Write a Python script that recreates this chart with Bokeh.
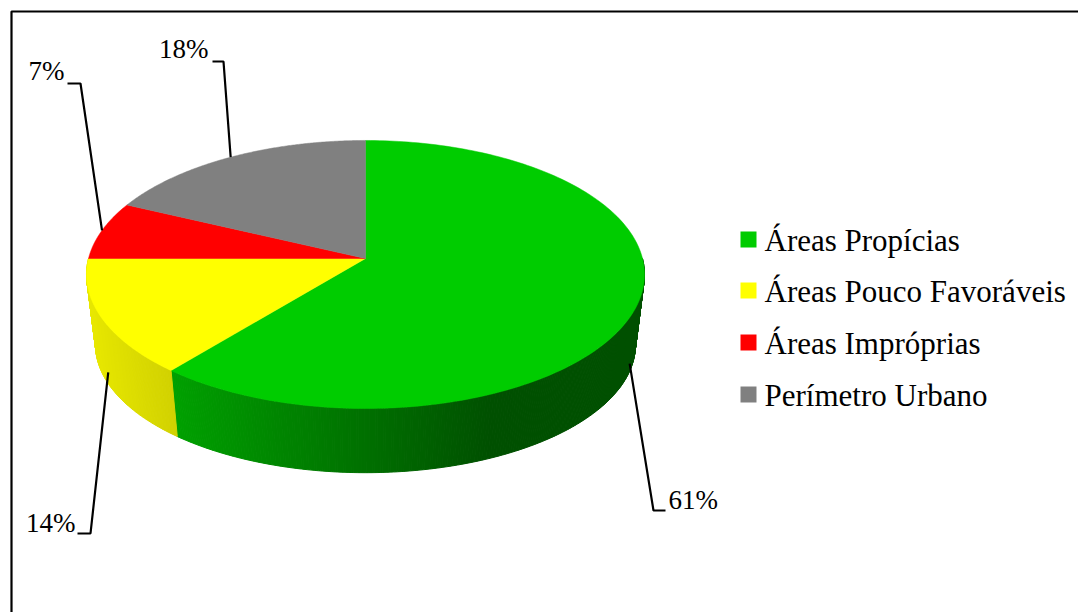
import numpy as np
from bokeh.plotting import figure
from bokeh.models import Range1d
from bokeh.core.properties import value
from bokeh.embed import file_html
from bokeh.resources import INLINE

# ---- data ----
categories = ["Áreas Propícias", "Áreas Pouco Favoráveis", "Áreas Impróprias", "Perímetro Urbano"]
values = [61, 14, 7, 18]
pct_labels = ["61%", "14%", "7%", "18%"]
colors = ["#00cc00", "#ffff00", "#ff0000", "#808080"]

# ---- layout / geometry (pixels) ----
W, H = 1078, 612
CX, CY, B, A, K = 365.0, 258.0, 277.0, 132.1, 0.1193      # top face (perspective)
CY2, B2, A2, K2 = 329.0, 268.0, 126.0, 0.12               # bottom face
FONT = "Liberation Serif"
TXT_SHIFT = -10


def top_pt(th):
    u, v = np.sin(th), np.cos(th)
    d = 1 + K * v
    return CX + B * u / d, CY - A * v / d


def bot_pt(th):
    u, v = np.sin(th), np.cos(th)
    d = 1 + K2 * v
    return CX + B2 * u / d, CY2 - A2 * v / d


def hexcol(rgb, f):
    r, g, b = [int(round(max(0, min(255, c * f)))) for c in rgb]
    return "#%02x%02x%02x" % (r, g, b)


def rgb_of(h):
    return tuple(int(h[i:i + 2], 16) for i in (1, 3, 5))


def shade(i, x):
    if i == 0:
        return float(np.interp(x, [90, 172, 493], [0.90, 0.784, 0.39]))
    if i == 1:
        return float(np.interp(x, [85, 172], [0.91, 0.82]))
    return float(np.interp(x, [85, 365, 645], [0.9, 0.6, 0.4]))


p = figure(width=W, height=H, x_range=Range1d(0, W), y_range=Range1d(H, 0),
           min_border=0, toolbar_location=None, output_backend="svg",
           x_axis_location=None, y_axis_location=None)
p.grid.visible = False
p.outline_line_color = None
p.background_fill_color = "white"
p.border_fill_color = "white"

# frame
p.line([11, 11, W + 5], [H + 5, 11, 11], line_color="black", line_width=2.2)

total = float(sum(values))
bounds = np.concatenate([[0], np.cumsum(values)]) / total * 2 * np.pi

# ---- side strips (front half only) ----
sx, sy, sc = [], [], []
step = np.radians(0.5)
for i in range(len(values)):
    a0, a1 = bounds[i], bounds[i + 1]
    lo, hi = max(a0, np.pi / 2), min(a1, 3 * np.pi / 2)
    if hi <= lo:
        continue
    n = max(2, int(np.ceil((hi - lo) / step)))
    ths = np.linspace(lo, hi, n + 1)
    base = rgb_of(colors[i])
    for t0, t1 in zip(ths[:-1], ths[1:]):
        x0, y0 = top_pt(t0)
        x1, y1 = top_pt(t1)
        x2, y2 = bot_pt(t1)
        x3, y3 = bot_pt(t0)
        sx.append([x0, x1, x2, x3])
        sy.append([y0, y1, y2, y3])
        sc.append(hexcol(base, shade(i, (x0 + x1) / 2)))
p.patches(sx, sy, fill_color=sc, line_color=sc, line_width=1)

# ---- top faces ----
tx, ty = [], []
for i in range(len(values)):
    ths = np.linspace(bounds[i], bounds[i + 1], 200)
    xs, ys = top_pt(ths)
    tx.append([CX] + list(xs))
    ty.append([CY] + list(ys))
p.patches(tx, ty, fill_color=colors, line_color=colors, line_width=0.5)

# ---- leader lines and labels ----
elbows = [((653, 510), (665, 510)), ((90, 533), (77, 533)),
          ((80, 83), (67, 83)), ((223, 61), (212, 61))]
label_pos = [(668, 509, "left"), (75, 532, "right"), (64, 80, "right"), (208, 58, "right")]
side_frac = [0.85, 0.8, 0.0, 0.0]
for i in range(len(values)):
    mid = (bounds[i] + bounds[i + 1]) / 2
    xt, yt = top_pt(mid)
    xb, yb = bot_pt(mid)
    f = side_frac[i]
    ax, ay = xt + (xb - xt) * f, yt + (yb - yt) * f
    (ex, ey), (hx, hy) = elbows[i]
    p.line([ax, ex, hx], [ay, ey, hy], line_color="black", line_width=2.2)
    lx, ly, al = label_pos[i]
    p.text(x=[lx], y=[ly + TXT_SHIFT], text=[pct_labels[i]], text_font=value(FONT),
           text_font_size="27px", text_color="black", text_align=al,
           text_baseline="alphabetic")

# ---- legend ----
leg_base = [249, 300, 352, 404]
for i, cat in enumerate(categories):
    p.rect(x=[748], y=[leg_base[i] - 10], width=16, height=16,
           fill_color=colors[i], line_color=None)
    p.text(x=[764], y=[leg_base[i] + TXT_SHIFT + 1], text=[cat], text_font=value(FONT),
           text_font_size="31px", text_color="black", text_align="left",
           text_baseline="alphabetic")

open("out.html", "w").write(file_html(p, INLINE))
